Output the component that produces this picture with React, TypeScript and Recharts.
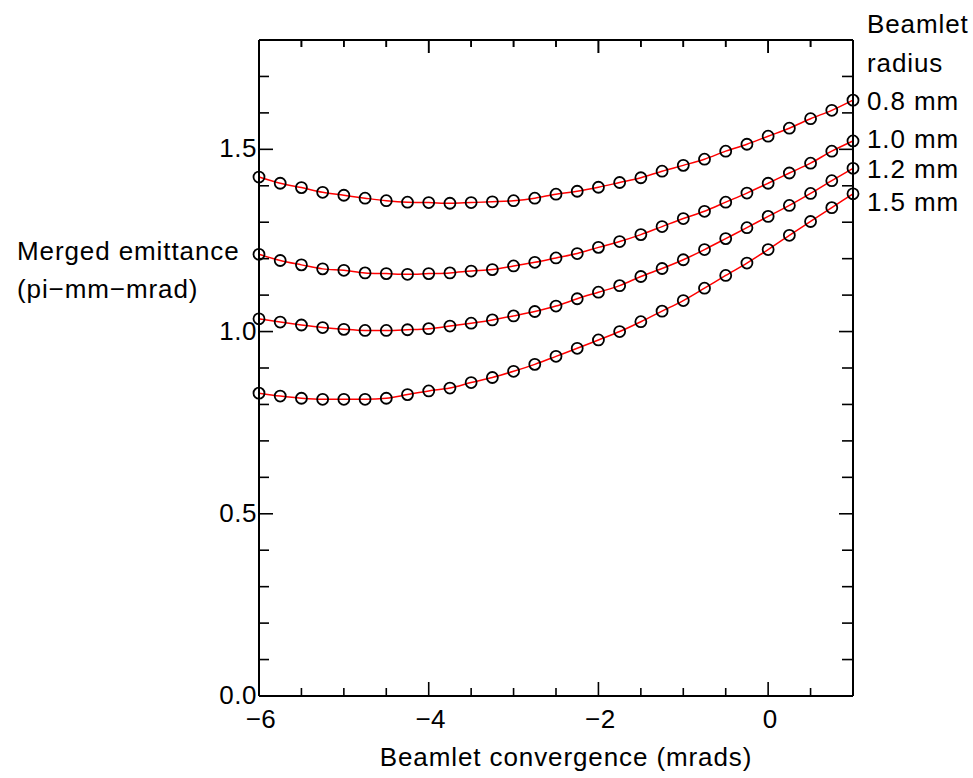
import React from 'react';
import { LineChart, Line, XAxis, YAxis } from 'recharts';

// beamlet convergence, mrad (step 0.25)
const convergence = [
  -6, -5.75, -5.5, -5.25, -5, -4.75, -4.5, -4.25, -4, -3.75, -3.5, -3.25, -3, -2.75, -2.5,
  -2.25, -2, -1.75, -1.5, -1.25, -1, -0.75, -0.5, -0.25, 0, 0.25, 0.5, 0.75, 1,
];

// merged emittance (pi-mm-mrad) for each beamlet radius
const r08 = [
  1.424, 1.407, 1.395, 1.382, 1.374, 1.366, 1.359, 1.355, 1.354, 1.352, 1.354, 1.356, 1.359, 1.366, 1.377,
  1.385, 1.396, 1.409, 1.422, 1.44, 1.456, 1.473, 1.495, 1.514, 1.536, 1.558, 1.584, 1.607, 1.635,
];
const r10 = [
  1.212, 1.195, 1.183, 1.172, 1.168, 1.161, 1.159, 1.157, 1.159, 1.161, 1.166, 1.17, 1.18, 1.19, 1.202,
  1.214, 1.231, 1.247, 1.266, 1.288, 1.31, 1.33, 1.355, 1.38, 1.407, 1.435, 1.462, 1.495, 1.523,
];
const r12 = [
  1.035, 1.026, 1.018, 1.011, 1.006, 1.003, 1.003, 1.005, 1.008, 1.015, 1.023, 1.032, 1.043, 1.055, 1.07,
  1.09, 1.108, 1.126, 1.151, 1.173, 1.197, 1.225, 1.255, 1.285, 1.316, 1.346, 1.379, 1.414, 1.448,
];
const r15 = [
  0.831, 0.823, 0.817, 0.814, 0.814, 0.814, 0.817, 0.827, 0.837, 0.845, 0.86, 0.874, 0.891, 0.91, 0.932,
  0.954, 0.977, 1.0, 1.027, 1.056, 1.085, 1.119, 1.154, 1.188, 1.225, 1.264, 1.302, 1.34, 1.378,
];

const seriesNames = ['0.8 mm', '1.0 mm', '1.2 mm', '1.5 mm'];

const xDomain = [-6, 1];
const yDomain = [0, 1.8];
const xTicks = [-6, -5.5, -5, -4.5, -4, -3.5, -3, -2.5, -2, -1.5, -1, -0.5, 0, 0.5, 1];
const xMajor = [-6, -4, -2, 0];
const yTicks = [0, 0.1, 0.2, 0.3, 0.4, 0.5, 0.6, 0.7, 0.8, 0.9, 1.0, 1.1, 1.2, 1.3, 1.4, 1.5, 1.6, 1.7, 1.8];
const yMajor = [0, 0.5, 1.0, 1.5];

const data = convergence.map((x, i) => ({ x, r08: r08[i], r10: r10[i], r12: r12[i], r15: r15[i] }));

// chart layout
const W = 973;
const H = 778;
const margin = { top: 10, right: 60, bottom: 52, left: 199 };
const AXIS_W = 60;
const AXIS_H = 30;
const PLOT_W = W - margin.left - margin.right - 2 * AXIS_W;
const PLOT_H = H - margin.top - margin.bottom - 2 * AXIS_H;

const FONT = '"Liberation Sans", Arial, Helvetica, sans-serif';
const textStyle = { fontFamily: FONT, fontSize: 26, letterSpacing: 0.9, fill: '#000' };

const isMajor = (v: number, list: number[]) => list.some((m) => Math.abs(m - v) < 1e-6);
const fmtX = (v: number) => (v < 0 ? '\u2212' + Math.abs(v) : String(v));

function XTick(props: any) {
  const { x, y, payload } = props;
  const major = isMajor(payload.value, xMajor);
  return (
    <g>
      <line x1={x} y1={y} x2={x} y2={y - (major ? 14 : 8)} stroke="#000" strokeWidth={1.6} />
      <line x1={x} y1={y - PLOT_H} x2={x} y2={y - PLOT_H + (major ? 13 : 7)} stroke="#000" strokeWidth={1.6} />
      {major && (
        <text x={x + 2} y={y + 32} textAnchor="middle" style={{ ...textStyle, letterSpacing: 0.5 }}>
          {fmtX(payload.value)}
        </text>
      )}
    </g>
  );
}

// left ticks also draw the matching inward tick on the right frame edge;
// the topmost one also lays out the inward ticks along the top edge
function YTick(props: any) {
  const { x, y, payload } = props;
  const major = isMajor(payload.value, yMajor);
  const right = x + PLOT_W;
  const isTop = Math.abs(payload.value - yDomain[1]) < 1e-6;
  return (
    <g>
      <line x1={x} y1={y} x2={x + (major ? 14 : 10)} y2={y} stroke="#000" strokeWidth={1.6} />
      <line x1={right} y1={y} x2={right - (major ? 14 : 11)} y2={y} stroke="#000" strokeWidth={1.6} />
      {isTop &&
        xTicks.map((v) => {
          const tx = x + ((v - xDomain[0]) / (xDomain[1] - xDomain[0])) * PLOT_W;
          const len = isMajor(v, xMajor) ? 13 : 7;
          return <line key={'top' + v} x1={tx} y1={y} x2={tx} y2={y + len} stroke="#000" strokeWidth={1.6} />;
        })}
      {major && (
        <text x={x - 2} y={y + 8} textAnchor="end" style={{ ...textStyle, letterSpacing: 0.5 }}>
          {payload.value.toFixed(1)}
        </text>
      )}
    </g>
  );
}

// series name written just right of the last point
const labelDy = [10, 7, 10, 17];
const endLabel = (k: number) => (props: any) => {
  const { x, y, index } = props;
  if (index !== convergence.length - 1) return <g key={'lbl' + k + '-' + index} />;
  return (
    <text key={'lbl' + k} x={x + 14} y={y + labelDy[k]} style={textStyle}>
      {seriesNames[k]}
    </text>
  );
};

const dotStyle = { r: 5.5, stroke: '#000', strokeWidth: 1.8, fill: 'none' };
const keys = ['r08', 'r10', 'r12', 'r15'];

const frameAxis = {
  type: 'number' as const,
  interval: 0 as const,
  tickSize: 0,
  tickMargin: 0,
  tickLine: false,
  axisLine: { stroke: '#000', strokeWidth: 2 },
};

export default function App() {
  return (
    <div style={{ position: 'absolute', left: 0, top: 0, width: W, height: H, background: '#fff' }}>
      <LineChart width={W} height={H} data={data} margin={margin}>
        <XAxis {...frameAxis} dataKey="x" domain={xDomain} ticks={xTicks} tick={<XTick />} height={AXIS_H} />
        <XAxis {...frameAxis} xAxisId="top" orientation="top" domain={xDomain} tick={false} height={AXIS_H} />
        <YAxis {...frameAxis} domain={yDomain} ticks={yTicks} tick={<YTick />} width={AXIS_W} />
        <YAxis {...frameAxis} yAxisId="right" orientation="right" domain={yDomain} tick={false} width={AXIS_W} />
        {keys.map((k, i) => (
          <Line
            key={k}
            dataKey={k}
            type="monotone"
            stroke="#ff0000"
            strokeWidth={1.5}
            dot={dotStyle}
            activeDot={false}
            label={endLabel(i)}
            isAnimationActive={false}
          />
        ))}
      </LineChart>
      <svg width={W} height={H} style={{ position: 'absolute', left: 0, top: 0, pointerEvents: 'none' }}>
        <text x={17} y={260} style={textStyle}>Merged emittance</text>
        <text x={17} y={298} style={textStyle}>(pi{'\u2212'}mm{'\u2212'}mrad)</text>
        <text x={566} y={766} textAnchor="middle" style={textStyle}>Beamlet convergence (mrads)</text>
        <text x={867} y={33} style={textStyle}>Beamlet</text>
        <text x={867} y={72} style={textStyle}>radius</text>
      </svg>
    </div>
  );
}
